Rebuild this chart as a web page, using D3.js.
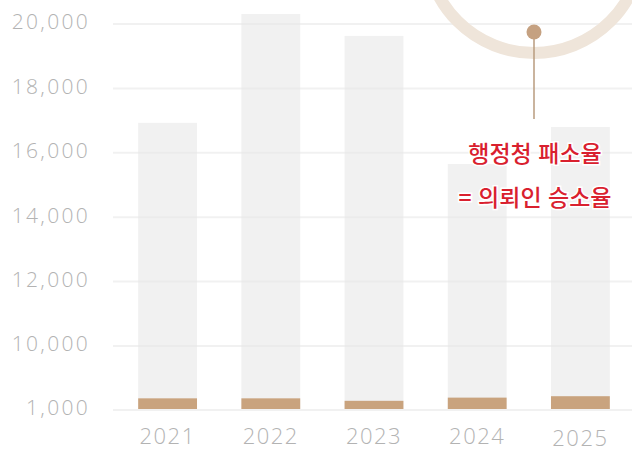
<!DOCTYPE html>
<html lang="ko">
<head>
<meta charset="UTF-8">
<title>행정청 패소율</title>
<style>
    body { margin: 0; padding: 0; background: #fff; }
    svg { display: block; }
    .tick-label { font-family: "Open Sans", sans-serif; font-weight: 300; fill: #b3b3b3; }
    .note { font-family: "Noto Sans CJK KR", sans-serif; font-weight: 500; fill: #d9202e;
            stroke: #fff; stroke-width: 3px; paint-order: stroke; }
</style>
</head>
<body>
<svg id="chart" width="632" height="451"></svg>
<script src="https://cdnjs.cloudflare.com/ajax/libs/d3/7.8.5/d3.min.js"></script>
<script>
    // data
    const years = ["2021", "2022", "2023", "2024", "2025"];
    const totalCases = [16900, 20280, 19600, 15620, 16770];   // gray bars
    const lostCases = [2500, 2500, 2150, 2600, 2800];         // brown bars
    const yTicks = [1000, 10000, 12000, 14000, 16000, 18000, 20000];
    const noteLines = ["행정청 패소율", "= 의뢰인 승소율"];

    const width = 632, height = 451;
    const svg = d3.select("#chart");

    // broken axis: 1,000 -> 10,000 squeezed into one step
    const y = d3.scaleLinear()
        .domain([1000, 10000, 20000])
        .range([409, 345, 23]);

    const x = d3.scaleBand()
        .domain(years)
        .range([116, 632])
        .paddingInner(0.43)
        .paddingOuter(0.215);

    // gray bars
    svg.append("g").selectAll("rect")
        .data(years)
        .enter()
        .append("rect")
        .attr("x", d => x(d))
        .attr("y", (d, i) => y(totalCases[i]))
        .attr("width", x.bandwidth())
        .attr("height", (d, i) => y(1000) - y(totalCases[i]))
        .attr("fill", "#f1f1f1");

    // grid lines on top, very faint
    svg.append("g").selectAll("line")
        .data(yTicks)
        .enter()
        .append("line")
        .attr("x1", 113)
        .attr("x2", width)
        .attr("y1", d => y(d) + 1)
        .attr("y2", d => y(d) + 1)
        .attr("stroke", "#e8e8e8")
        .attr("stroke-opacity", 0.6)
        .attr("stroke-width", 2);

    // brown bars
    svg.append("g").selectAll("rect")
        .data(years)
        .enter()
        .append("rect")
        .attr("x", d => x(d))
        .attr("y", (d, i) => y(lostCases[i]))
        .attr("width", x.bandwidth())
        .attr("height", (d, i) => y(1000) - y(lostCases[i]))
        .attr("fill", "#c9a37e");

    // y labels
    svg.append("g").selectAll("text")
        .data(yTicks)
        .enter()
        .append("text")
        .attr("class", "tick-label")
        .attr("x", 90)
        .attr("y", d => y(d) - 1)
        .attr("dy", "0.35em")
        .attr("text-anchor", "end")
        .attr("font-size", 21)
        .attr("letter-spacing", 2.3)
        .text(d3.format(","));

    // x labels
    svg.append("g").selectAll("text")
        .data(years)
        .enter()
        .append("text")
        .attr("class", "tick-label")
        .attr("x", d => x(d) + x.bandwidth() / 2)
        .attr("y", (d, i) => i === 4 ? 446 : 444)
        .attr("text-anchor", "middle")
        .attr("font-size", 22)
        .attr("letter-spacing", 1.5)
        .attr("fill", "#acacac")
        .text(d => d);

    // ring in the top-right corner
    const cx = 534;
    svg.append("circle")
        .attr("cx", cx)
        .attr("cy", -55)
        .attr("r", 108)
        .attr("fill", "none")
        .attr("stroke", "#efe5da")
        .attr("stroke-width", 12);

    svg.append("line")
        .attr("x1", cx).attr("x2", cx)
        .attr("y1", 32).attr("y2", 119)
        .attr("stroke", "#b89b7e")
        .attr("stroke-width", 1.5);

    svg.append("circle")
        .attr("cx", cx)
        .attr("cy", 32)
        .attr("r", 7.5)
        .attr("fill", "#c5a181");

    svg.append("g").selectAll("text")
        .data(noteLines)
        .enter()
        .append("text")
        .attr("class", "note")
        .attr("x", cx + 1)
        .attr("y", (d, i) => 162 + i * 44)
        .attr("text-anchor", "middle")
        .attr("font-size", 23)
        .attr("font-weight", 400)
        .text(d => d);
</script>
</body>
</html>
